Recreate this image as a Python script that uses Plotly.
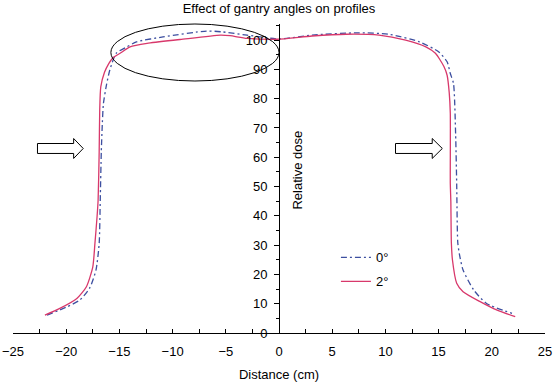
import plotly.graph_objects as go

# 0° gantry angle profile (blue dash-dot)
x_0deg = [-21.8, -20.0, -18.7, -17.8, -17.2, -16.9, -16.8, -16.7, -16.6, -16.5, -16.2, -15.9,
          -15.3, -14.3, -13.4, -10.9, -6.8, -5.3, -3.0, 0.0, 3.1, 7.5, 10.3, 13.2, 15.0,
          15.8, 16.1, 16.4, 16.6, 16.7, 16.8, 16.95, 17.3, 18.3, 19.5, 21.9]
y_0deg = [6.1, 8.8, 11.3, 15.3, 21.5, 30.6, 45.4, 62.0, 72.0, 78.4, 85.0, 89.8,
          95.5, 97.7, 99.4, 101.1, 103.1, 102.8, 101.7, 100.4, 101.7, 102.5, 102.0, 99.4, 96.0,
          92.6, 88.6, 85.2, 68.0, 51.0, 31.0, 27.0, 21.5, 14.7, 10.1, 6.7]

# 2° gantry angle profile (red solid)
x_2deg = [-22.0, -20.6, -19.0, -18.1, -17.5, -17.3, -17.1, -17.0, -16.9, -16.85, -16.75, -16.4,
          -16.0, -15.6, -14.9, -14.0, -12.4, -9.3, -5.5, -4.6, -3.0, -0.2, 3.1, 6.3, 9.4,
          11.9, 13.8, 14.7, 15.5, 15.8, 16.0, 16.1, 16.1, 16.15, 16.2, 16.3, 16.7, 17.3,
          18.9, 20.5, 22.2]
y_2deg = [6.1, 8.4, 11.8, 15.8, 22.6, 30.6, 39.7, 45.4, 62.0, 76.0, 84.0, 89.0,
          92.0, 94.0, 95.6, 97.7, 98.9, 100.2, 101.7, 101.5, 100.6, 100.3, 101.4, 102.0, 101.7,
          100.0, 97.7, 95.5, 91.0, 88.0, 82.0, 75.0, 51.0, 45.0, 30.7, 25.0, 17.0, 14.1,
          10.7, 7.8, 5.6]

series_names = ["0°", "2°"]

FONT = "Liberation Sans, Arial, Helvetica, sans-serif"
FS = 13

fig = go.Figure()
fig.add_trace(go.Scatter(x=x_0deg, y=y_0deg, mode="lines", name=series_names[0],
                         legendgroup="a",
                         line=dict(color="#3d4fa0", width=1.3, dash="6px,3px,2px,3px",
                                   shape="spline", smoothing=0.6)))
fig.add_trace(go.Scatter(x=x_2deg, y=y_2deg, mode="lines", name=series_names[1],
                         legendgroup="b",
                         line=dict(color="#d8386b", width=1.3,
                                   shape="spline", smoothing=0.6)))

# ellipse highlighting the shoulder region
fig.add_shape(type="circle", xref="x", yref="paper",
              x0=-15.8, x1=0.0, y0=0.8155, y1=1.0,
              line=dict(color="black", width=1), fillcolor="rgba(0,0,0,0)", layer="above")

# block arrows
def arrow_path(x0, xb, xt, yc, hb, hh):
    return (f"M{x0},{yc-hb} L{xb},{yc-hb} L{xb},{yc-hh} L{xt},{yc} "
            f"L{xb},{yc+hh} L{xb},{yc+hb} L{x0},{yc+hb} Z")

for (x0, xb, xt) in [(-22.7, -19.3, -18.4), (10.95, 14.4, 15.35)]:
    fig.add_shape(type="path", xref="x", yref="y",
                  path=arrow_path(x0, xb, xt, 63.0, 1.7, 3.4),
                  line=dict(color="black", width=1), fillcolor="white", layer="above")

# y-axis title sits to the right of the centred axis
fig.add_annotation(text="Relative dose", x=1.7, y=55.5, xref="x", yref="y",
                   textangle=-90, showarrow=False,
                   font=dict(family=FONT, size=FS, color="black"))

fig.update_layout(
    width=555, height=383,
    margin=dict(l=13, r=10, t=24, b=50, autoexpand=False),
    paper_bgcolor="white", plot_bgcolor="white",
    font=dict(family=FONT, size=FS, color="black"),
    title=dict(text="Effect of gantry angles on profiles", x=0.5, xref="paper",
               y=1 - 8 / 383, yanchor="middle", yref="container",
               font=dict(family=FONT, size=FS, color="black")),
    showlegend=True,
    legend=dict(x=0.607, y=0.293, xanchor="left", yanchor="top",
                bgcolor="rgba(0,0,0,0)", tracegroupgap=4,
                font=dict(family=FONT, size=FS, color="black")),
)

fig.update_xaxes(range=[-25, 25], showline=True, linecolor="black", linewidth=1,
                 showgrid=False, zeroline=False, ticks="inside", ticklen=4,
                 tickcolor="black", dtick=5, tick0=0, automargin=False,
                 ticklabelstandoff=6,
                 minor=dict(dtick=2.5, ticks="inside", ticklen=4, tickcolor="black",
                            showgrid=False),
                 title=dict(text="Distance (cm)", standoff=12,
                            font=dict(family=FONT, size=FS)),
                 tickfont=dict(family=FONT, size=FS))

fig.update_yaxes(range=[0, 105.5], showline=True, linecolor="black", linewidth=1,
                 showgrid=False, zeroline=False, anchor="free", position=0.5,
                 ticks="outside", ticklen=5, tickcolor="black", dtick=10, tick0=0,
                 automargin=False, ticklabelstandoff=4,
                 minor=dict(dtick=5, ticks="outside", ticklen=3, tickcolor="black",
                            showgrid=False),
                 tickfont=dict(family=FONT, size=FS))

# remove the browser's default 8px page margin so the figure fills the window exactly
fig.write_html("out.html", config={"displayModeBar": False},
               post_script="document.body.style.margin='0px';")
